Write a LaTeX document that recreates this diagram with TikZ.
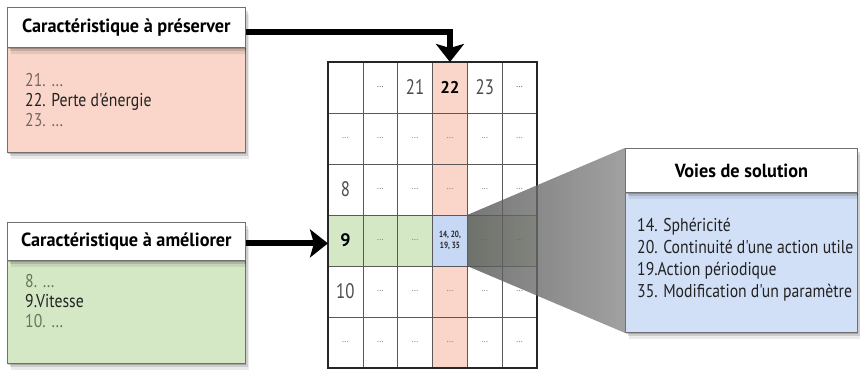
\documentclass[tikz,border=0pt]{standalone}
\usepackage{fontspec}
\setmainfont{PT Sans}
\newfontfamily\itemfont[FakeStretch=0.85]{PT Sans}
\newfontfamily\hdrfont[FakeStretch=0.96]{PT Sans}
\newfontfamily\numfont[FakeStretch=0.8]{PT Sans}
\usetikzlibrary{arrows.meta,shadows,calc}
\definecolor{pinkb}{HTML}{F9D6C9}
\definecolor{greenb}{HTML}{D5E8C6}
\definecolor{blueb}{HTML}{D2E0F7}
\definecolor{bluec}{HTML}{C6D8F3}
\definecolor{framec}{HTML}{707070}
\definecolor{pinkgray}{HTML}{7A6862}
\definecolor{greengray}{HTML}{667658}
\definecolor{textc}{HTML}{222222}
\pgfdeclarelayer{back}
\pgfdeclarelayer{front}
\pgfsetlayers{back,main,front}
\newcommand\mygridrow[7]{%
  \node[cell] (c-#1-0) at ({345.4},{87.5+#1*51}) {#2};
  \node[cell] (c-#1-1) at ({380.25},{87.5+#1*51}) {#3};
  \node[cell] (c-#1-2) at ({415.1},{87.5+#1*51}) {#4};
  \node[cell] (c-#1-3) at ({449.95},{87.5+#1*51}) {#5};
  \node[cell] (c-#1-4) at ({484.8},{87.5+#1*51}) {#6};
  \node[cell] (c-#1-5) at ({519.65},{87.5+#1*51}) {#7};
}
\newcommand\dd{…}
\newcommand\bignum[1]{{\numfont\fontsize{21}{21}\selectfont\color{black!70}#1}}
\begin{document}
\begin{tikzpicture}[x=1pt,y=-1pt,
  softshadow/.style={drop shadow={shadow xshift=1pt,shadow yshift=-2pt,opacity=.2,fill=black},
                     drop shadow={shadow xshift=2.5pt,shadow yshift=-4pt,opacity=.13,fill=black},
                     drop shadow={shadow xshift=4pt,shadow yshift=-6.5pt,opacity=.08,fill=black}},
  hdr/.style={draw=framec, line width=0.8pt, fill=white, anchor=north west, inner sep=0pt,
              font=\hdrfont\fontsize{19}{21}\selectfont\bfseries, text=black, softshadow},
  bodyb/.style={draw=framec, line width=0.8pt, anchor=north west, inner sep=0pt, softshadow},
  item/.style={anchor=base west, inner sep=0pt, font=\itemfont\fontsize{18.5}{20}\selectfont, text=textc},
  cell/.style={draw=black!65, line width=0.6pt, minimum width=34.85pt, minimum height=51pt,
               inner sep=0pt, outer sep=0pt, font=\fontsize{9}{9}\selectfont, text=black!55},
  bigarrow/.style={line width=6pt, -{Stealth[length=18pt,width=28pt,inset=4pt]}},
  funnel/.style={left color=black!52, right color=black!22, opacity=0.55}
]
\useasboundingbox (0,0) rectangle (860,371);

% ---- grid ----
\mygridrow{0}{}{\textcolor{black!70}{\dd}}{\bignum{21}}{{\fontsize{17}{17}\selectfont\bfseries\color{black}22}}{\bignum{23}}{\textcolor{black!70}{\dd}}
\mygridrow{1}{\dd}{\dd}{\dd}{\dd}{\dd}{\dd}
\mygridrow{2}{\bignum{8}}{\dd}{\dd}{\dd}{\dd}{\dd}
\mygridrow{3}{{\fontsize{18}{18}\selectfont\bfseries\color{black}9}}{\dd}{\dd}{{\numfont\fontsize{9}{9.5}\selectfont\bfseries\color{black!85}\shortstack{14, 20,\\19, 35}}}{\dd}{\dd}
\mygridrow{4}{\bignum{10}}{\dd}{\dd}{\dd}{\dd}{\dd}
\mygridrow{5}{\dd}{\dd}{\dd}{\dd}{\dd}{\dd}
\begin{pgfonlayer}{back}
  \fill[pinkb] (c-0-3.north west) rectangle (c-5-3.south east);
  \fill[greenb] (c-3-0.north west) rectangle (c-3-5.south east);
  \fill[bluec] (c-3-3.north west) rectangle (c-3-3.south east);
\end{pgfonlayer}
\draw[line width=1.2pt, black!85] (c-0-0.north west) rectangle (c-5-5.south east);

% ---- boxes ----
\begin{pgfonlayer}{front}
  % preserve
  \node[bodyb, fill=pinkb, minimum width=238pt, minimum height=105pt] (presb) at (7,47) {};
  \node[hdr, minimum width=238pt, minimum height=40pt] (pres) at (7,7) {Caractéristique à préserver};
  \node[item, text=pinkgray] (p21) at (25,87) {21. \dd};
  \node[item] (p22) at (25,107) {22. Perte d'énergie};
  \node[item, text=pinkgray] (p23) at (25,127) {23. \dd};
  % improve
  \node[bodyb, fill=greenb, minimum width=238pt, minimum height=103pt] (amelb) at (7,260) {};
  \node[hdr, minimum width=238pt, minimum height=38pt] (amel) at (7,222) {Caractéristique à améliorer};
  \node[item, text=greengray] (a8) at (25,288) {8. \dd};
  \node[item] (a9) at (25,308) {9.Vitesse};
  \node[item, text=greengray] (a10) at (25,328) {10. \dd};
  % solutions
  \node[bodyb, fill=blueb, minimum width=232pt, minimum height=140pt] (voiesb) at (625,192) {};
  \node[hdr, minimum width=232pt, minimum height=44pt] (voies) at (625,148) {Voies de solution};
  \node[item] (v14) at (637,232) {14. Sphéricité};
  \node[item] (v20) at (637,254) {20. Continuité d'une action utile};
  \node[item] (v19) at (637,276) {19.Action périodique};
  \node[item] (v35) at (637,298) {35. Modification d'un paramètre};
\end{pgfonlayer}

% ---- funnel ----
\fill[funnel] (c-3-3.north east) -- (voies.north west) -- (voiesb.south west) -- (c-3-3.south east) -- cycle;

% ---- arrows ----
\draw[bigarrow] ([yshift=-5pt]pres.east) -| (c-0-3.north);
\draw[bigarrow] ([yshift=-2pt]amel.east) -- ([yshift=-2pt]amel.east -| c-3-0.west);
\end{tikzpicture}
\end{document}
